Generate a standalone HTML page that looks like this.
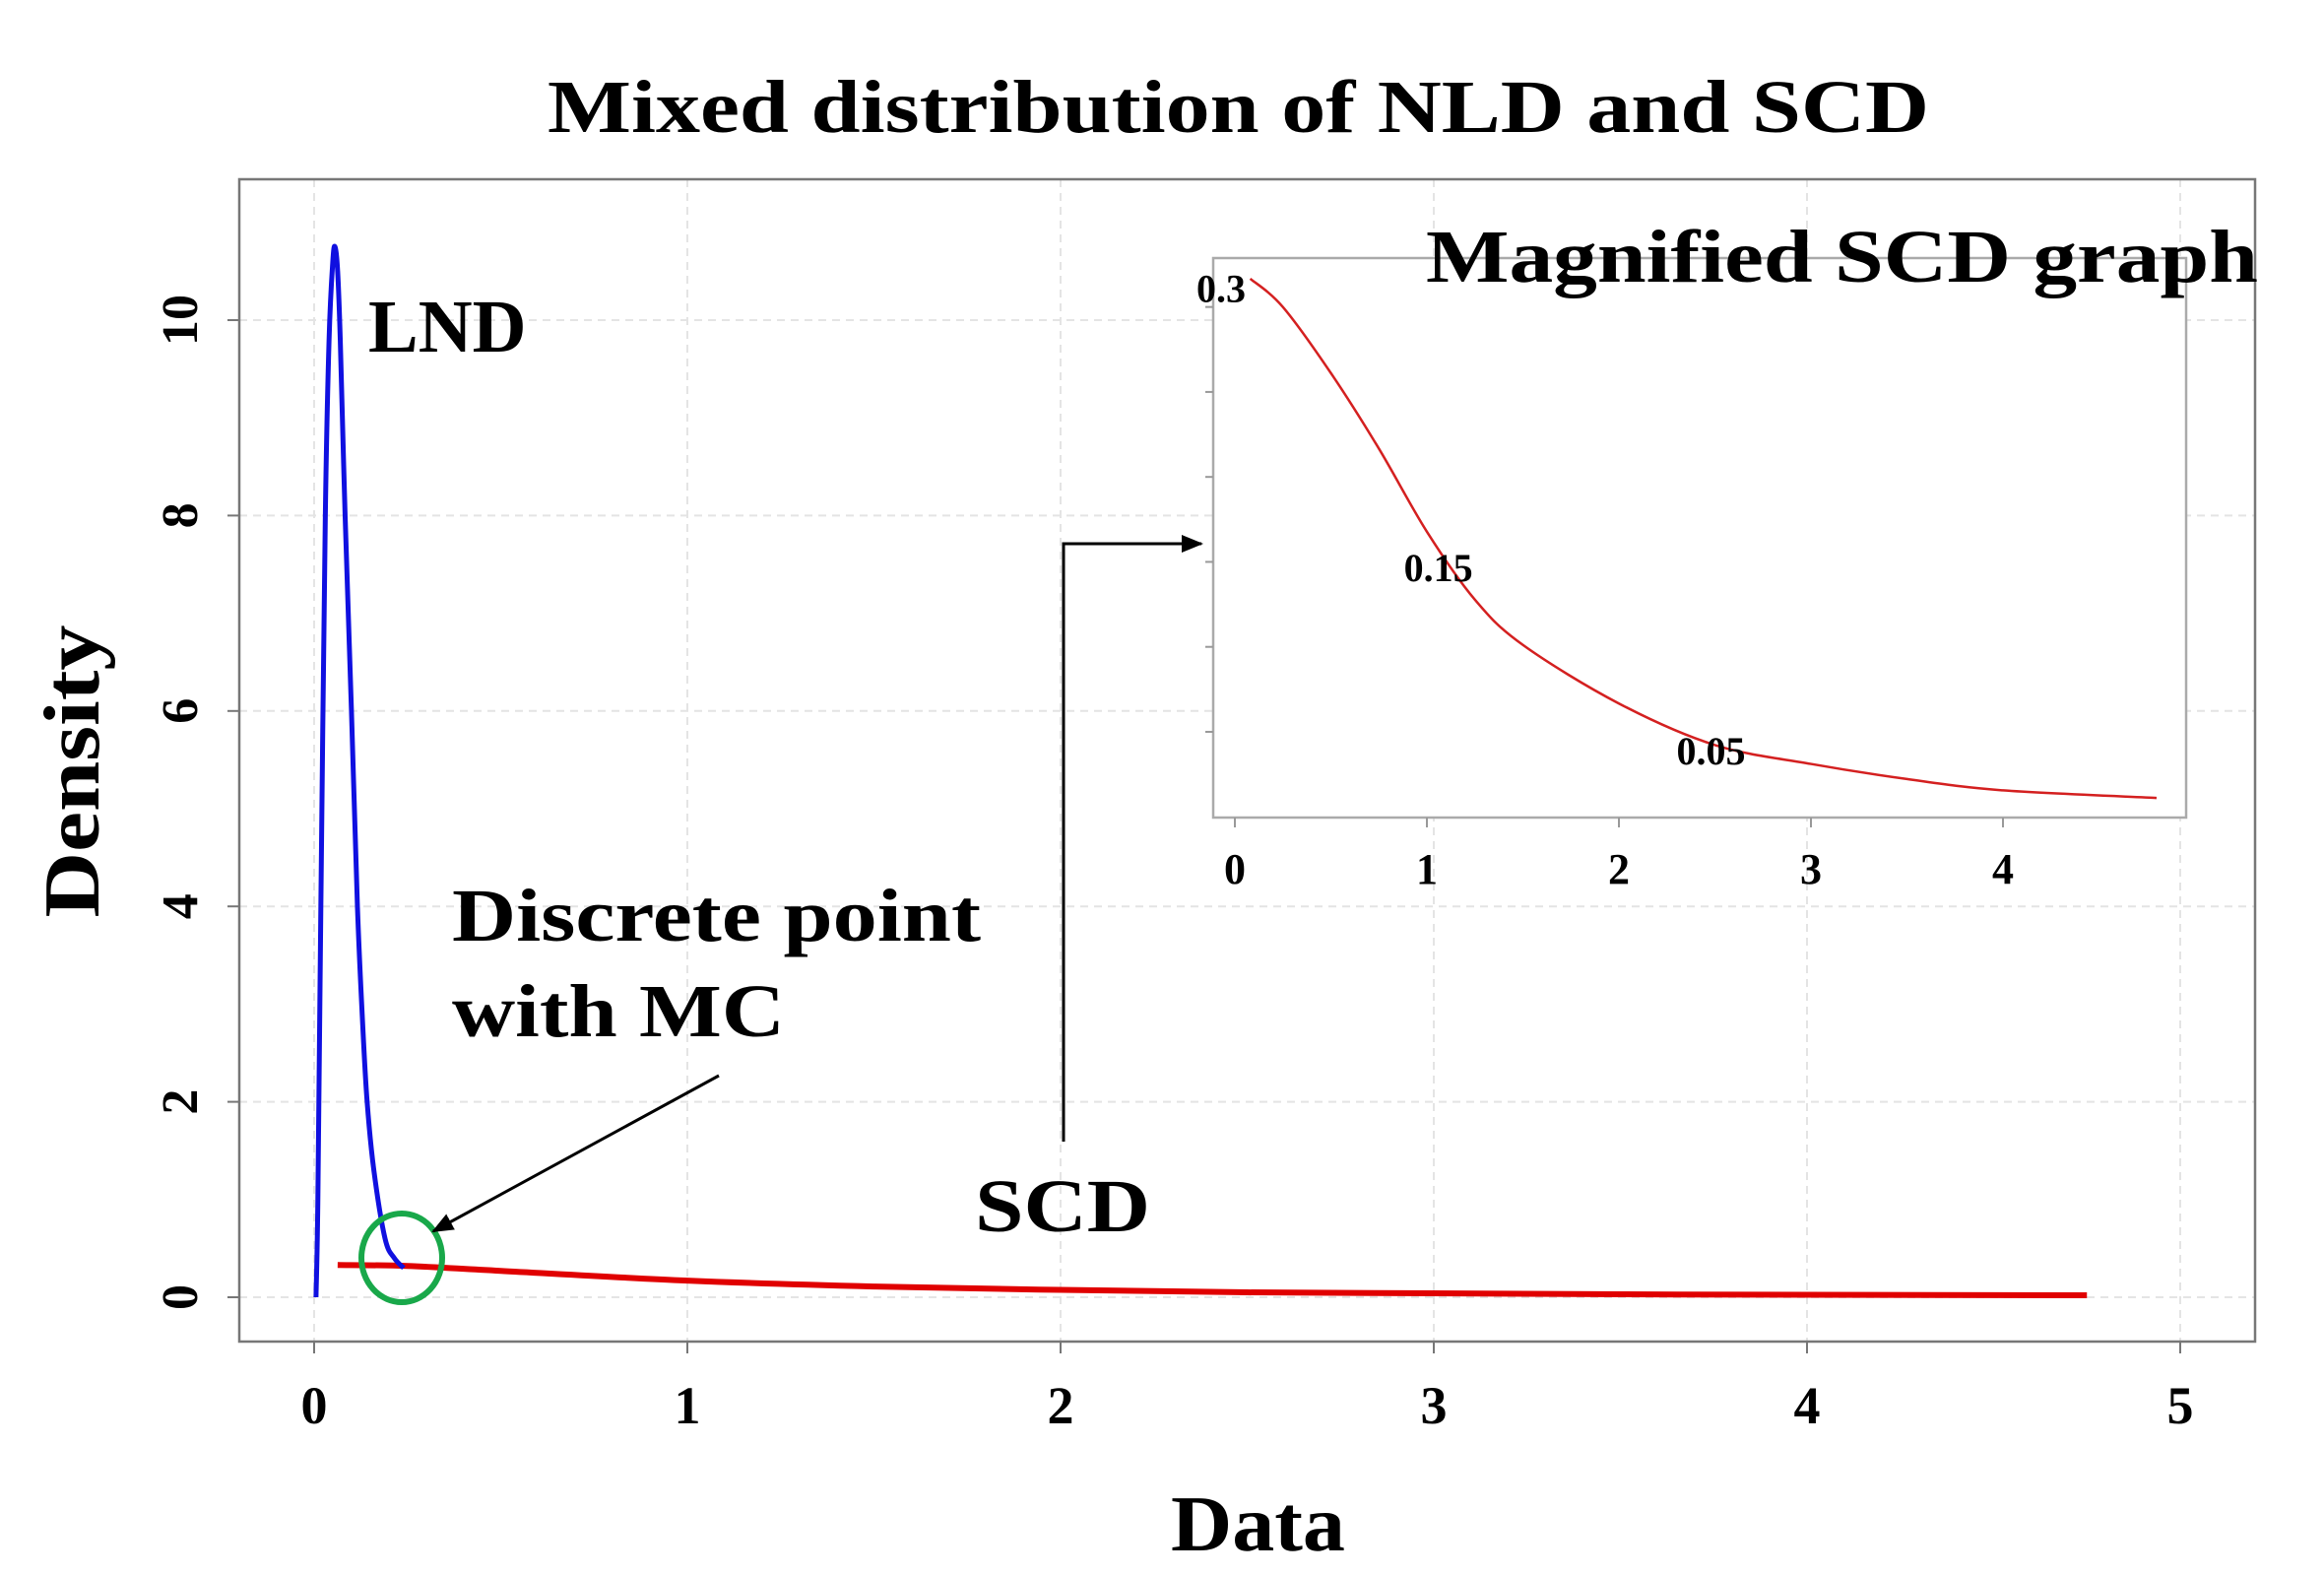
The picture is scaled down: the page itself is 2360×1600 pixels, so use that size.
<!DOCTYPE html>
<html><head><meta charset="utf-8"><style>
html,body{margin:0;padding:0;background:#fff;}
svg{display:block;font-family:"Liberation Serif",serif;font-weight:bold;}
</style></head><body>
<svg id="chart" width="2360" height="1600" viewBox="0 0 2360 1600" xmlns="http://www.w3.org/2000/svg">
<text x="556" y="134" font-size="76" textLength="1403" lengthAdjust="spacingAndGlyphs">Mixed distribution of NLD and SCD</text>
<g id="grid"></g>
<rect x="243" y="182" width="2047" height="1180" fill="none" stroke="#777" stroke-width="2.5"/>
<g id="axes"></g>
<g id="series"></g>
<text transform="translate(100,783) rotate(-90)" text-anchor="middle" font-size="80" textLength="297" lengthAdjust="spacingAndGlyphs">Density</text>
<text x="1189" y="1574" font-size="80" textLength="177" lengthAdjust="spacingAndGlyphs">Data</text>
<text x="374" y="357" font-size="76">LND</text>
<text x="459" y="955" font-size="76" textLength="537" lengthAdjust="spacingAndGlyphs">Discrete point</text>
<text x="459" y="1052" font-size="76" textLength="338" lengthAdjust="spacingAndGlyphs">with MC</text>
<text x="990" y="1250" font-size="76" textLength="178" lengthAdjust="spacingAndGlyphs">SCD</text>
<defs><marker id="ah2" markerWidth="22" markerHeight="18" refX="20" refY="9" orient="auto" markerUnits="userSpaceOnUse"><path d="M0,0 L22,9 L0,18 z" fill="#000"/></marker></defs>
<line x1="730" y1="1092" x2="440" y2="1250" stroke="#000" stroke-width="3" marker-end="url(#ah2)"/>
<polyline points="1080,1159 1080,552 1220,552" fill="none" stroke="#000" stroke-width="3" marker-end="url(#ah2)"/>
<g id="inset">
<rect x="1232" y="262" width="988" height="568" fill="#fff" stroke="#aaa" stroke-width="2.5"/>
</g>
<text x="1448" y="286" font-size="76" textLength="845" lengthAdjust="spacingAndGlyphs">Magnified SCD graph</text>
</svg>
<script>
// main chart data
const lndX = [0.005,0.01,0.018,0.03,0.04,0.05,0.056,0.063,0.07,0.083,0.1,0.116,0.13,0.142,0.16,0.19,0.215,0.24];
const lndY = [0,1,4,8,9.8,10.6,10.75,10.5,9.8,8,6,4,2.8,2,1.3,0.6,0.4,0.3];
const scdX = [0.063,0.25,0.5,1,1.5,2,2.5,3,3.5,4,4.75];
const scdY = [0.33,0.32,0.27,0.17,0.11,0.075,0.05,0.04,0.03,0.025,0.02];
const xTicks = [0,1,2,3,4,5];
const xTickLabels = ["0","1","2","3","4","5"];
const yTicks = [0,2,4,6,8,10];
const yTickLabels = ["0","2","4","6","8","10"];
// inset data
const insetX = [0.08,0.25,0.5,0.75,1,1.25,1.5,2,2.5,3,3.5,4,4.8];
const insetY = [0.3,0.285,0.25,0.21,0.166,0.13,0.106,0.075,0.053,0.043,0.035,0.029,0.025];
const insetXTicks = [0,1,2,3,4];
const insetYTicks = [0.06,0.105,0.15,0.195,0.24,0.285];
const insetNotes = [["0.3",-0.2,0.295],["0.15",0.88,0.147],["0.05",2.3,0.05]];

const NS="http://www.w3.org/2000/svg";
const xs=v=>319+v*379, ys=v=>1317-v*99.2;
const ixs=v=>1254+v*195, iys=v=>858-v*1917;
function mk(tag,attrs,parent,txt){const e=document.createElementNS(NS,tag);for(const k in attrs)e.setAttribute(k,attrs[k]);if(txt!==undefined)e.textContent=txt;parent.appendChild(e);return e;}
function smooth(p){let d='M'+p[0][0]+','+p[0][1];for(let i=0;i<p.length-1;i++){const p0=p[i-1]||p[i],p1=p[i],p2=p[i+1],p3=p[i+2]||p2;const t=6;d+=` C${p1[0]+(p2[0]-p0[0])/t},${p1[1]+(p2[1]-p0[1])/t} ${p2[0]-(p3[0]-p1[0])/t},${p2[1]-(p3[1]-p1[1])/t} ${p2[0]},${p2[1]}`;}return d;}
const grid=document.getElementById('grid'),axes=document.getElementById('axes'),series=document.getElementById('series'),inset=document.getElementById('inset');
xTicks.forEach((t,i)=>{
  const g=mk('line',{x1:xs(t),x2:xs(t),y1:182,y2:1362,stroke:'#e4e4e4','stroke-width':2,'stroke-dasharray':'8,6'},grid);
  
  
  const tk=mk('line',{x1:xs(t),x2:xs(t),y1:1362,y2:1374,stroke:'#777','stroke-width':2},axes);
  
  
  const l=mk('text',{x:xs(t),y:1445,'text-anchor':'middle','font-size':54},axes,xTickLabels[i]);
  
  
});
yTicks.forEach((t,i)=>{
  const g=mk('line',{x1:243,x2:2290,y1:ys(t),y2:ys(t),stroke:'#e4e4e4','stroke-width':2,'stroke-dasharray':'8,6'},grid);
  
  
  const tk=mk('line',{x1:231,x2:243,y1:ys(t),y2:ys(t),stroke:'#777','stroke-width':2},axes);
  
  
  const l=mk('text',{transform:`translate(200,${ys(t)}) rotate(-90)`,'text-anchor':'middle','font-size':52},axes,yTickLabels[i]);
  
  
});
const r=mk('path',{d:smooth(scdX.map((x,i)=>[xs(x),ys(scdY[i])])),fill:'none',stroke:'#e00000','stroke-width':6,'stroke-linejoin':'round'},series);


const b=mk('path',{d:smooth(lndX.map((x,i)=>[xs(x),ys(lndY[i])])),fill:'none',stroke:'#1010e0','stroke-width':5,'stroke-linejoin':'round'},series);


const c=mk('ellipse',{cx:408,cy:1277,rx:41,ry:45,fill:'none',stroke:'#19a84a','stroke-width':6},series);


// inset
insetXTicks.forEach(t=>{
  const tk=mk('line',{x1:ixs(t),x2:ixs(t),y1:830,y2:840,stroke:'#999','stroke-width':2},inset);
  
  
  const l=mk('text',{x:ixs(t),y:897,'text-anchor':'middle','font-size':44},inset,String(t));
  
  
});
insetYTicks.forEach(t=>{
  const tk=mk('line',{x1:1224,x2:1232,y1:iys(t),y2:iys(t),stroke:'#999','stroke-width':2},inset);
  
  
});
const ic=mk('path',{d:smooth(insetX.map((x,i)=>[ixs(x),iys(insetY[i])])),fill:'none',stroke:'#d42020','stroke-width':2.5,'stroke-linejoin':'round'},inset);


insetNotes.forEach(n=>{
  const l=mk('text',{x:ixs(n[1]),y:iys(n[2])+14,'font-size':40},inset,n[0]);
  
  
});
</script>
</body></html>
